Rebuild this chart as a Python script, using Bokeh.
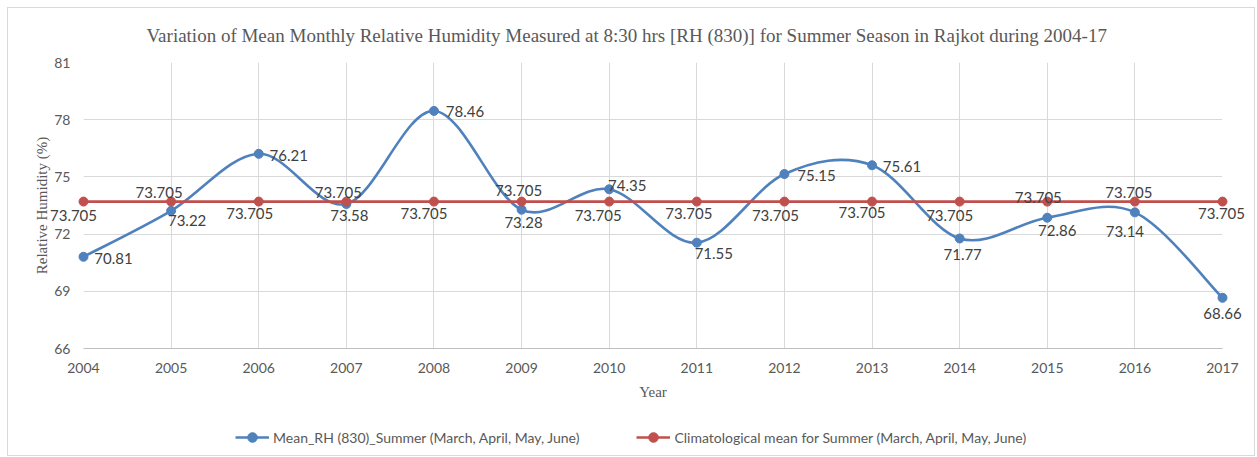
import numpy as np
from bokeh.plotting import figure
from bokeh.layouts import column
from bokeh.models import Range1d, FixedTicker, ColumnDataSource, Legend, LegendItem
from bokeh.core.properties import value
from bokeh.embed import file_html
from bokeh.resources import INLINE

# ---------------- data ----------------
years = [2004, 2005, 2006, 2007, 2008, 2009, 2010, 2011, 2012, 2013, 2014, 2015, 2016, 2017]
mean_rh = [70.81, 73.22, 76.21, 73.58, 78.46, 73.28, 74.35, 71.55, 75.15, 75.61, 71.77, 72.86, 73.14, 68.66]
clim_mean = [73.705] * 14
y_ticks = [66, 69, 72, 75, 78, 81]

title_text = ("Variation of Mean Monthly Relative Humidity Measured at 8:30 hrs "
              "[RH (830)] for Summer Season in Rajkot during 2004-17")
series1_name = "Mean_RH (830)_Summer (March, April, May, June)"
series2_name = "Climatological mean for Summer (March, April, May, June)"

# label placement (screen px offsets of each data label centre; +dy = up)
blue_dx = [30, 16, 30, 3, 31, 2, 18, 17, 32, 30, 3, 10, -10, 0]
blue_dy = [-2, -10, -2, -12, -1, -13, 4, -11, -1, -1, -16, -13, -19, -16]
red_dx = [-10, -12, -9, -8, -10, -3, -11, -8, -9, -10, -10, -9, -6, -1]
red_dy = [-14, 9, -12, 9, -12, 11, -14, -12, -14, -11, -14, 4, 9, -12]

BLUE = "#4F81BD"
RED = "#C0504D"
TXT = "#595959"
GRID = "#D9D9D9"

p = figure(width=1246, height=407, output_backend="svg", toolbar_location=None,
           x_range=Range1d(2004, 2017), y_range=Range1d(66, 81),
           min_border_left=75, min_border_right=32, min_border_top=54,
           min_border_bottom=67)
p.outline_line_color = None
p.background_fill_color = "white"
p.border_fill_color = "white"

p.title.text = title_text
p.title.align = "left"
p.title.offset = 63
p.title.vertical_align = "top"
p.title.standoff = 30
p.title.text_font = "Liberation Serif"
p.title.text_font_size = "19px"
p.title.text_font_style = "normal"
p.title.text_color = TXT

# axes
p.xaxis.ticker = FixedTicker(ticks=years)
p.yaxis.ticker = FixedTicker(ticks=y_ticks)
for ax in (p.xaxis, p.yaxis):
    ax.major_tick_line_color = None
    ax.minor_tick_line_color = None
    ax.major_label_text_font = "Lato"
    ax.major_label_text_font_size = "14px"
    ax.major_label_text_color = TXT
    ax.axis_label_text_font = "Liberation Serif"
    ax.axis_label_text_font_size = "15px"
    ax.axis_label_text_font_style = "normal"
    ax.axis_label_text_color = TXT
p.xaxis.axis_line_color = "#BFBFBF"
p.yaxis.axis_line_color = None
p.xaxis.major_label_standoff = 8
p.yaxis.major_label_standoff = 7
p.xaxis.axis_label = "Year"
p.yaxis.axis_label = "Relative Humidity (%)"
p.xaxis.axis_label_standoff = 8
p.yaxis.axis_label_standoff = 1

p.xgrid.ticker = FixedTicker(ticks=years)
p.ygrid.ticker = FixedTicker(ticks=y_ticks)
p.grid.grid_line_color = GRID
p.grid.grid_line_width = 1

# smooth curve (Excel-style smoothing via cubic Bezier segments through data points)
xs = np.array(years, dtype=float)
ys = np.array(mean_rh, dtype=float)
n = len(xs)
xp = np.concatenate([[xs[0]], xs, [xs[-1]]])
yp = np.concatenate([[ys[0]], ys, [ys[-1]]])
x0 = xs[:-1]; y0 = ys[:-1]; x1 = xs[1:]; y1 = ys[1:]
cx0 = xs[:-1] + (xp[2:n + 1] - xp[0:n - 1]) / 6.0
cy0 = ys[:-1] + (yp[2:n + 1] - yp[0:n - 1]) / 6.0
cx1 = xs[1:] - (xp[3:n + 2] - xp[1:n]) / 6.0
cy1 = ys[1:] - (yp[3:n + 2] - yp[1:n]) / 6.0
p.bezier(x0=x0, y0=y0, x1=x1, y1=y1, cx0=cx0, cy0=cy0, cx1=cx1, cy1=cy1,
         line_color=BLUE, line_width=2.6)
p.scatter(years, mean_rh, size=9, fill_color=BLUE, line_color=BLUE, level="overlay")

p.line(years, clim_mean, line_color=RED, line_width=2.6)
p.scatter(years, clim_mean, size=9, fill_color=RED, line_color=RED, level="overlay")

# data labels (text glyphs drawn at overlay level so edge labels are not clipped)
bsrc = ColumnDataSource(dict(x=years, y=mean_rh, t=[f"{v:.2f}" for v in mean_rh],
                             dx=blue_dx, dy=[-d for d in blue_dy]))
rsrc = ColumnDataSource(dict(x=years, y=clim_mean, t=[f"{v:g}" for v in clim_mean],
                             dx=red_dx, dy=[-d for d in red_dy]))
for src in (bsrc, rsrc):
    p.text(x="x", y="y", text="t", source=src, x_offset="dx", y_offset="dy",
           text_align="center", text_baseline="middle", level="overlay",
           text_font=value("Lato"), text_font_size=value("15px"),
           text_color="#404040")

# legend strip below the chart (series re-plotted outside its visible range,
# so only the legend entries show)
lf = figure(width=1246, height=40, output_backend="svg", toolbar_location=None,
            x_axis_type=None, y_axis_type=None, x_range=Range1d(0, 1),
            y_range=Range1d(0, 1), min_border=0)
lf.outline_line_color = None
lf.grid.visible = False
lb_line = lf.line(years, mean_rh, line_color=BLUE, line_width=2.6)
lb_pt = lf.scatter(years, mean_rh, size=9, fill_color=BLUE, line_color=BLUE)
lr_line = lf.line(years, clim_mean, line_color=RED, line_width=2.6)
lr_pt = lf.scatter(years, clim_mean, size=9, fill_color=RED, line_color=RED)
legend = Legend(items=[LegendItem(label=series1_name, renderers=[lb_line, lb_pt]),
                       LegendItem(label=series2_name, renderers=[lr_line, lr_pt])],
                orientation="horizontal", location=(152, 6),
                label_text_font="Lato", label_text_font_size="14px",
                label_text_color=TXT, glyph_width=34, glyph_height=24,
                label_standoff=4, spacing=57, padding=4, margin=0,
                border_line_color=None, background_fill_alpha=0)
lf.add_layout(legend)

layout = column(p, lf, spacing=0,
                styles={"border": "1px solid #D9D9D9", "margin-left": "7px",
                        "margin-top": "7px", "background-color": "white"})

open("out.html", "w").write(file_html(layout, INLINE))
